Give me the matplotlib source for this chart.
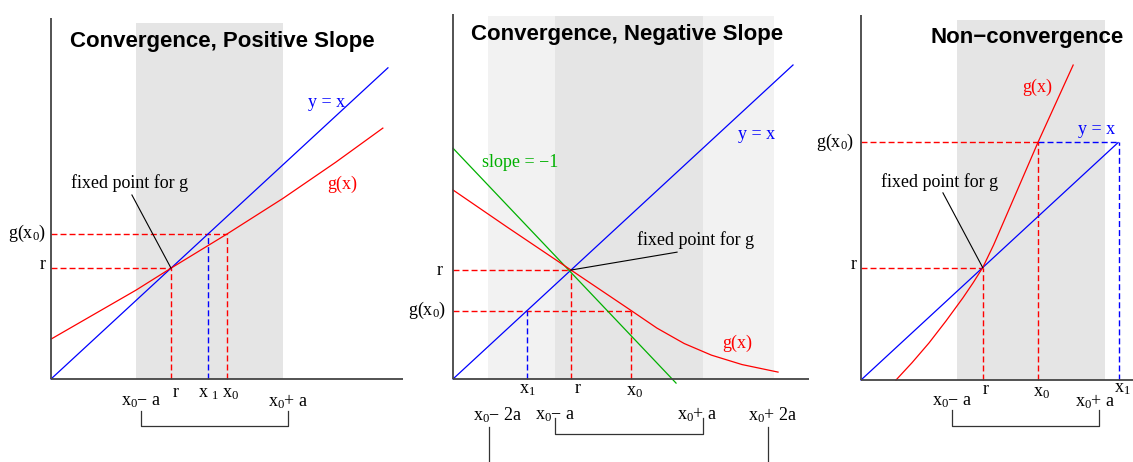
import matplotlib
matplotlib.use("Agg")
import matplotlib.pyplot as plt

plt.rcParams['font.family'] = ['Liberation Serif', 'DejaVu Serif']

# figure size in pixels and drawing scale (pixels per unit)
W, H = 1133, 462
KX, KY = 34.0, 31.4

# ---- panel 1: convergence, positive slope ----
p1_r = 3.53
p1_x0 = 5.18
p1_x1 = 4.62            # x1 = g(x0)
p1_gx = [0, 2.5, 3.53, 5.18, 6.82, 8.37, 9.76]
p1_gy = [1.27, 2.83, 3.53, 4.62, 5.75, 6.90, 7.99]
p1_line_end = 9.91
p1_band = [2.5, 6.82]
p1_bracket = [2.65, 6.97]

# ---- panel 2: convergence, negative slope ----
p2_r = 3.47
p2_x0 = 5.24
p2_x1 = 2.18            # x1 = g(x0)
p2_gx = [0, 1.59, 3.47, 5.24, 6.0, 6.8, 7.6, 8.5, 9.56]
p2_gy = [6.02, 4.84, 3.47, 2.18, 1.62, 1.13, 0.76, 0.46, 0.22]
p2_slope_x = [0, 6.56]
p2_slope_y = [7.35, -0.13]
p2_line_end = 10.0
p2_band_outer = [1.03, 9.44]
p2_band_inner = [3.0, 7.35]
p2_bracket = [3.0, 7.35]
p2_outer_ticks = [1.06, 9.26]

# ---- panel 3: non-convergence ----
p3_r = 3.58
p3_x0 = 5.21
p3_x1 = 7.58            # x1 = g(x0)
p3_gx = [1.03, 1.5, 2.0, 2.5, 3.0, 3.3, 3.58, 3.9, 4.38, 5.21, 6.24]
p3_gy = [0, 0.55, 1.18, 1.88, 2.62, 3.1, 3.58, 4.3, 5.5, 7.58, 10.03]
p3_line_end = 7.56
p3_band = [2.82, 7.18]
p3_bracket = [2.68, 7.0]

RED, BLUE, GREEN = '#ff0000', '#0000ff', '#00b000'
AXC = '#444444'
SHADE, LIGHT = '#e5e5e5', '#f2f2f2'
DASH = (0, (4.3, 2.2))
FS = 13

fig = plt.figure(figsize=(W / 100, H / 100), dpi=100)


def make_panel(left, right, ox, oy):
    ax = fig.add_axes([left / W, 0, (right - left) / W, 1])
    ax.set_xlim((left - ox) / KX, (right - ox) / KX)
    ax.set_ylim((oy - H) / KY, oy / KY)
    ax.axis('off')
    return ax


def axes_lines(ax, xend, ytop):
    ax.plot([0, xend], [0, 0], color=AXC, lw=1.3, solid_capstyle='butt', zorder=5)
    ax.plot([0, 0], [0, ytop], color=AXC, lw=1.3, solid_capstyle='butt', zorder=5)


def dashed(ax, xs, ys, color):
    ax.plot(xs, ys, color=color, lw=1.0, ls=DASH, zorder=3)


def bracket(ax, xs, ytop, ybot):
    ax.plot([xs[0], xs[0], xs[1], xs[1]], [ytop, ybot, ybot, ytop],
            color='#333333', lw=0.9, clip_on=False)


def sub(base, s, rest=''):
    return base + r'$\mathregular{_' + s + '}$' + rest


def title(ax, x, y, s):
    ax.text(x, y, s, ha='center', va='center', fontsize=16,
            family='Liberation Sans', weight='bold')


def note(ax, tx, ty, lx, ly, px, py):
    ax.text(tx, ty, 'fixed point for g', ha='center', va='center', fontsize=FS)
    ax.plot([lx, px], [ly, py], color='black', lw=0.8, zorder=4)


# ================= panel 1 =================
ax1 = make_panel(0, 420, 51, 379)
ax1.fill_between(p1_band, 0, 11.34, color=SHADE, lw=0, zorder=0)
axes_lines(ax1, 10.35, 11.5)
dashed(ax1, [0, p1_r], [p1_r, p1_r], RED)
dashed(ax1, [p1_r, p1_r], [0, p1_r], RED)
dashed(ax1, [0, p1_x0], [p1_x1, p1_x1], RED)
dashed(ax1, [p1_x0, p1_x0], [0, p1_x1], RED)
dashed(ax1, [p1_x1, p1_x1], [0, p1_x1], BLUE)
ax1.plot([0, p1_line_end], [0, p1_line_end], color=BLUE, lw=0.9, zorder=4)
ax1.plot(p1_gx, p1_gy, color=RED, lw=0.9, zorder=4)
title(ax1, 5.03, 10.76, 'Convergence, Positive Slope')
ax1.text(8.10, 8.79, 'y = x', color=BLUE, ha='center', va='center', fontsize=FS)
ax1.text(8.57, 6.21, 'g(x)', color=RED, ha='center', va='center', fontsize=FS)
note(ax1, 2.32, 6.24, 2.38, 5.86, p1_r, p1_r)
ax1.text(-0.15, p1_x1, sub('g(x', '0', ')'), ha='right', va='center', fontsize=FS)
ax1.text(-0.15, p1_r + 0.13, 'r', ha='right', va='center', fontsize=FS)
ax1.text(p1_r + 0.15, -0.42, 'r', ha='center', va='center', fontsize=FS)
ax1.text(p1_x1 + 0.03, -0.45, sub('x ', '1'), ha='center', va='center', fontsize=FS)
ax1.text(p1_x0 + 0.11, -0.47, sub('x', '0'), ha='center', va='center', fontsize=FS)
ax1.text(p1_bracket[0], -0.73, sub('x', '0', '− a'), ha='center', va='center', fontsize=FS)
ax1.text(p1_bracket[1], -0.73, sub('x', '0', '+ a'), ha='center', va='center', fontsize=FS)
bracket(ax1, p1_bracket, -1.02, -1.5)

# ================= panel 2 =================
ax2 = make_panel(400, 830, 453, 379)
ax2.fill_between(p2_band_outer, 0, 11.56, color=LIGHT, lw=0, zorder=0)
ax2.fill_between(p2_band_inner, 0, 11.56, color=SHADE, lw=0, zorder=0)
axes_lines(ax2, 10.47, 11.62)
dashed(ax2, [0, p2_r], [p2_r, p2_r], RED)
dashed(ax2, [p2_r, p2_r], [0, p2_r], RED)
dashed(ax2, [0, p2_x0], [p2_x1, p2_x1], RED)
dashed(ax2, [p2_x0, p2_x0], [0, p2_x1], RED)
dashed(ax2, [p2_x1, p2_x1], [0, p2_x1], BLUE)
ax2.plot([0, p2_line_end], [0, p2_line_end], color=BLUE, lw=0.9, zorder=4)
ax2.plot(p2_slope_x, p2_slope_y, color=GREEN, lw=0.9, zorder=4, clip_on=False)
ax2.plot(p2_gx, p2_gy, color=RED, lw=0.9, zorder=4)
title(ax2, 5.13, 10.96, 'Convergence, Negative Slope')
ax2.text(1.99, 6.88, 'slope = −1', color=GREEN, ha='center', va='center', fontsize=FS)
ax2.text(8.93, 7.80, 'y = x', color=BLUE, ha='center', va='center', fontsize=FS)
ax2.text(8.37, 1.15, 'g(x)', color=RED, ha='center', va='center', fontsize=FS)
note(ax2, 7.12, 4.43, 6.59, 4.04, p2_r, p2_r)
ax2.text(-0.29, p2_r, 'r', ha='right', va='center', fontsize=FS)
ax2.text(-0.2, p2_x1, sub('g(x', '0', ')'), ha='right', va='center', fontsize=FS)
ax2.text(p2_x1 + 0.0, -0.35, sub('x', '1'), ha='center', va='center', fontsize=FS)
ax2.text(p2_r + 0.21, -0.30, 'r', ha='center', va='center', fontsize=FS)
ax2.text(p2_x0 + 0.11, -0.40, sub('x', '0'), ha='center', va='center', fontsize=FS)
ax2.text(p2_outer_ticks[0] + 0.26, -1.15, sub('x', '0', '− 2a'), ha='center', va='center', fontsize=FS)
ax2.text(p2_bracket[0], -1.15, sub('x', '0', '− a'), ha='center', va='center', fontsize=FS)
ax2.text(p2_bracket[1] - 0.17, -1.15, sub('x', '0', '+ a'), ha='center', va='center', fontsize=FS)
ax2.text(p2_outer_ticks[1] + 0.15, -1.15, sub('x', '0', '+ 2a'), ha='center', va='center', fontsize=FS)
bracket(ax2, p2_bracket, -1.24, -1.75)
for xt in p2_outer_ticks:
    ax2.plot([xt, xt], [-1.53, -2.7], color='#333333', lw=0.9)

# ================= panel 3 =================
ax3 = make_panel(810, 1133, 861, 380)
ax3.fill_between(p3_band, 0, 11.46, color=SHADE, lw=0, zorder=0)
axes_lines(ax3, 8.2, 11.62)
dashed(ax3, [0, p3_r], [p3_r, p3_r], RED)
dashed(ax3, [p3_r, p3_r], [0, p3_r], RED)
dashed(ax3, [0, p3_x0], [p3_x1, p3_x1], RED)
dashed(ax3, [p3_x0, p3_x0], [0, p3_x1], RED)
dashed(ax3, [p3_x0, p3_x1], [p3_x1, p3_x1], BLUE)
dashed(ax3, [p3_x1, p3_x1], [0, p3_x1], BLUE)
ax3.plot([0, p3_line_end], [0, p3_line_end], color=BLUE, lw=0.9, zorder=4)
ax3.plot(p3_gx, p3_gy, color=RED, lw=0.9, zorder=4)
title(ax3, 4.88, 10.92, 'Non−convergence')
ax3.text(5.19, 9.33, 'g(x)', color=RED, ha='center', va='center', fontsize=FS)
ax3.text(6.94, 7.99, 'y = x', color=BLUE, ha='center', va='center', fontsize=FS)
note(ax3, 2.32, 6.31, 2.41, 5.96, p3_r, p3_r)
ax3.text(-0.2, p3_x1, sub('g(x', '0', ')'), ha='right', va='center', fontsize=FS)
ax3.text(-0.12, p3_r + 0.1, 'r', ha='right', va='center', fontsize=FS)
ax3.text(p3_r + 0.1, -0.3, 'r', ha='center', va='center', fontsize=FS)
ax3.text(p3_x0 + 0.11, -0.4, sub('x', '0'), ha='center', va='center', fontsize=FS)
ax3.text(7.93, -0.28, sub('x', '1'), ha='right', va='center', fontsize=FS)
ax3.text(p3_bracket[0], -0.70, sub('x', '0', '− a'), ha='center', va='center', fontsize=FS)
ax3.text(p3_bracket[1] - 0.12, -0.70, sub('x', '0', '+ a'), ha='center', va='center', fontsize=FS)
bracket(ax3, p3_bracket, -0.96, -1.46)

fig.savefig('out.png', dpi=100)
